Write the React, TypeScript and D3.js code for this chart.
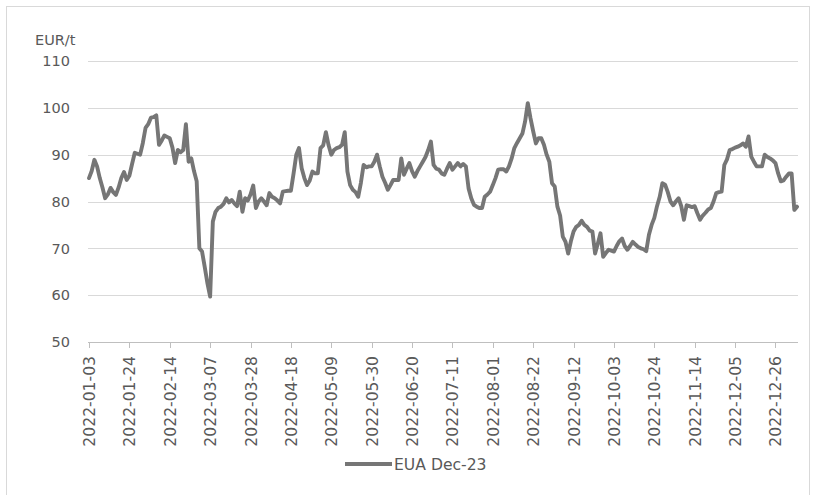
import React from "react";
import * as d3 from "d3";

// Trading days (Mon–Fri) starting 2022-01-03
const START_DATE = "2022-01-03";
const POINT_COUNT = 264;

// EUA Dec-23 settlement prices, EUR/t, one per trading day
const euaDec23: number[] = [
  85.0, 86.5, 88.9, 87.5, 85.0,
  83.0, 80.7, 81.5, 82.9, 82.0,
  81.4, 83.0, 85.0, 86.3, 84.6,
  85.5, 88.0, 90.4, 90.2, 90.0,
  92.5, 95.7, 96.5, 97.9, 98.0,
  98.4, 92.1, 93.0, 94.1, 93.8,
  93.5, 91.5, 88.2, 91.0, 90.5,
  91.0, 96.5, 88.5, 89.2, 86.5,
  84.3, 70.0, 69.3, 66.0, 62.5,
  59.7, 75.7, 77.8, 78.6, 78.9,
  79.5, 80.7, 79.8, 80.3, 79.6,
  79.0, 82.1, 77.8, 80.7, 80.2,
  81.5, 83.4, 78.6, 80.0, 80.7,
  80.0, 79.2, 81.8, 81.0, 80.7,
  80.2, 79.6, 82.1, 82.2, 82.3,
  82.3, 86.0, 90.0, 91.4, 87.1,
  85.0, 83.5, 84.5, 86.4, 86.0,
  86.0, 91.4, 92.0, 94.8, 92.0,
  90.0, 91.0, 91.4, 91.6, 92.1,
  94.8, 86.4, 83.5, 82.5, 82.0,
  81.0, 84.0, 87.8, 87.3, 87.5,
  87.5, 88.5, 90.0, 87.5, 85.3,
  84.0, 82.5, 83.5, 84.6, 84.6,
  84.6, 89.2, 85.7, 87.0, 88.2,
  86.5, 85.3, 86.5, 87.5, 88.5,
  89.5, 91.0, 92.8, 87.8, 87.0,
  86.8, 86.0, 85.7, 87.0, 88.2,
  86.8, 87.5, 88.2, 87.5, 88.0,
  87.5, 82.8, 80.7, 79.3, 78.9,
  78.6, 78.6, 81.0, 81.5, 82.1,
  83.5, 85.0, 86.8, 86.9, 86.9,
  86.4, 87.5, 89.2, 91.4, 92.5,
  93.5, 94.5, 97.1, 101.0, 97.8,
  95.0, 92.4, 93.5, 93.5, 92.1,
  90.0, 88.5, 83.9, 83.2, 78.9,
  77.0, 72.5, 71.4, 68.9, 71.5,
  73.6, 74.6, 75.0, 75.9, 75.0,
  74.6, 73.8, 73.6, 68.9, 71.0,
  73.2, 68.2, 69.0, 69.7, 69.5,
  69.3, 70.5, 71.5, 72.1, 70.5,
  69.7, 70.5, 71.4, 70.8, 70.3,
  70.0, 69.8, 69.4, 72.9, 75.0,
  76.5, 79.0, 81.0, 83.9, 83.6,
  82.0, 80.0, 79.2, 80.0, 80.7,
  79.0, 76.1, 79.2, 79.0, 78.8,
  79.0, 77.5, 76.1, 77.0, 77.6,
  78.3, 78.6, 80.0, 81.8, 82.0,
  82.1, 87.8, 89.0, 91.0, 91.2,
  91.5, 91.7, 92.0, 92.4, 91.7,
  93.9, 89.6, 88.5, 87.5, 87.5,
  87.5, 90.0, 89.5, 89.2, 88.8,
  88.2, 86.0, 84.3, 84.5, 85.3,
  86.0, 86.0, 78.2, 78.9,
];

const xTickLabels: string[] = [
  "2022-01-03", "2022-01-24", "2022-02-14", "2022-03-07", "2022-03-28",
  "2022-04-18", "2022-05-09", "2022-05-30", "2022-06-20", "2022-07-11",
  "2022-08-01", "2022-08-22", "2022-09-12", "2022-10-03", "2022-10-24",
  "2022-11-14", "2022-12-05", "2022-12-26",
];

const yTicks: number[] = [50, 60, 70, 80, 90, 100, 110];
const unitLabel = "EUR/t";
const seriesName = "EUA Dec-23";

const fmt = d3.timeFormat("%Y-%m-%d");
const parse = d3.timeParse("%Y-%m-%d");

function tradingDays(start: string, n: number): string[] {
  const out: string[] = [];
  let d = parse(start) as Date;
  while (out.length < n) {
    const wd = d.getDay();
    if (wd !== 0 && wd !== 6) out.push(fmt(d));
    d = d3.timeDay.offset(d, 1);
  }
  return out;
}

const dates = tradingDays(START_DATE, POINT_COUNT);

const W = 815;
const H = 495;
const FONT = "'DejaVu Sans', Verdana, sans-serif";
const TEXT = "#595959";

export default function App() {
  const x = d3.scalePoint<string>().domain(dates).range([89, 797]);
  const y = d3.scaleLinear().domain([50, 110]).range([342, 61]);

  const rows = dates.map((d, i) => ({ d, v: euaDec23[i] }));
  const line = d3
    .line<{ d: string; v: number }>()
    .x((r) => x(r.d) as number)
    .y((r) => y(r.v));

  const [x0, x1] = x.range();

  return (
    <div style={{ position: "absolute", left: 0, top: 0 }}>
      <svg width={W} height={H} style={{ display: "block", background: "#fff" }}>
        <rect x={6.5} y={6.5} width={803} height={492} fill="#fff" stroke="#d9d9d9" />

        {yTicks.map((t) => (
          <g key={t}>
            {t !== 50 && (
              <line x1={x0 - 1} x2={x1 + 1} y1={Math.round(y(t)) + 0.5} y2={Math.round(y(t)) + 0.5} stroke="#d9d9d9" strokeWidth={1} />
            )}
            <text
              x={70}
              y={y(t)}
              dy="0.36em"
              textAnchor="end"
              fontFamily={FONT}
              fontSize={14.5}
              fill={TEXT}
            >
              {t}
            </text>
          </g>
        ))}

        <text x={35} y={45} fontFamily={FONT} fontSize={14.5} fill={TEXT}>
          {unitLabel}
        </text>

        {/* category axis */}
        <line x1={x0 - 1} x2={x1 + 1} y1={342.5} y2={342.5} stroke="#bfbfbf" strokeWidth={1} />
        {xTickLabels.map((lab) => {
          const px = Math.round(x(lab) as number) + 0.5;
          return (
            <g key={lab}>
              <line x1={px} x2={px} y1={342.5} y2={348} stroke="#bfbfbf" strokeWidth={1} />
              <text
                transform={`translate(${px},356) rotate(-90)`}
                textAnchor="end"
                dy="0.36em"
                fontFamily={FONT}
                fontSize={15.6}
                fill={TEXT}
              >
                {lab}
              </text>
            </g>
          );
        })}

        <path
          d={line(rows) ?? ""}
          fill="none"
          stroke="#767676"
          strokeWidth={3.9}
          strokeLinejoin="round"
          strokeLinecap="round"
        />

        {/* legend */}
        <line x1={345} x2={392} y1={464} y2={464} stroke="#767676" strokeWidth={3.9} />
        <text x={394} y={469.5} fontFamily={FONT} fontSize={15.6} fill={TEXT}>
          {seriesName}
        </text>
      </svg>
    </div>
  );
}
